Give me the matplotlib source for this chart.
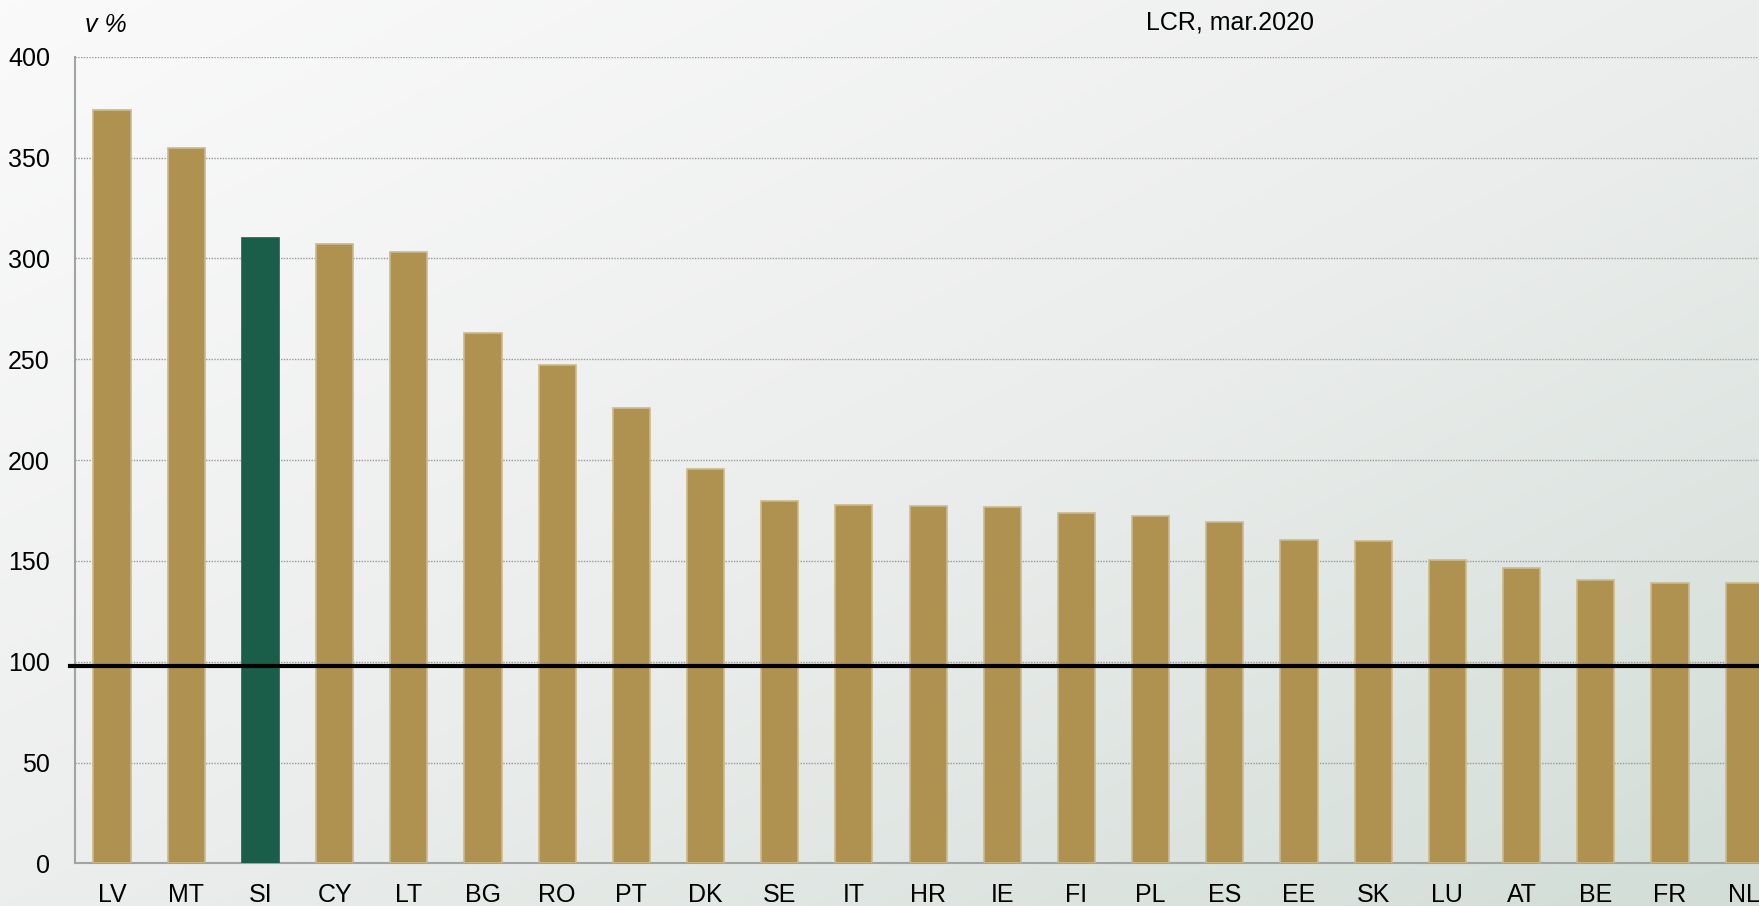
import numpy as np
import matplotlib
matplotlib.use('agg')
import matplotlib.pyplot as plt
from matplotlib.colors import LinearSegmentedColormap

# LCR by country, March 2020
countries = ['LV', 'MT', 'SI', 'CY', 'LT', 'BG', 'RO', 'PT', 'DK', 'SE', 'IT', 'HR',
             'IE', 'FI', 'PL', 'ES', 'EE', 'SK', 'LU', 'AT', 'BE', 'FR', 'NL']
lcr = [373.4, 354.6, 310.0, 307.3, 303.4, 263.2, 247.2, 226.0, 195.4, 179.8, 177.6, 177.0,
       176.6, 173.8, 172.0, 169.2, 160.4, 159.8, 150.5, 146.6, 140.3, 139.2, 138.8]
highlight = 'SI'
ref_level = 98

plt.rcParams['font.family'] = ['Liberation Sans Narrow', 'Liberation Sans', 'DejaVu Sans']

fig = plt.figure(figsize=(17.59, 9.06), dpi=100)

# diagonal gradient background
bg = fig.add_axes([0, 0, 1, 1], zorder=-10)
xx, yy = np.meshgrid(np.linspace(0, 1, 300), np.linspace(0, 1, 300))
t = (xx + yy) / 2
cmap = LinearSegmentedColormap.from_list('bg', ['#fafafa', '#eceeed', '#d2ddd7'])
bg.imshow(t, cmap=cmap, aspect='auto', extent=[0, 1, 1, 0], vmin=0, vmax=1)
bg.axis('off')

ax = fig.add_axes([0.0426, 0.0471, 0.9574, 0.8903])
ax.set_facecolor('none')

ind = np.arange(len(countries))
colors = ['#1a5e4a' if c == highlight else '#af9150' for c in countries]
edges = ['#1a5e4a' if c == highlight else '#cbb98e' for c in countries]
ax.bar(ind, lcr, 0.5, color=colors, edgecolor=edges, linewidth=1.2, zorder=3)

ax.axhline(ref_level, color='black', linewidth=3, zorder=4, xmin=-0.003, clip_on=False)

ax.set_xlim(-0.5, 22.2)
ax.set_ylim(0, 400)
ax.set_yticks(np.arange(0, 401, 50))
ax.set_xticks(ind)
ax.set_xticklabels(countries)
ax.yaxis.grid(True, linestyle=(0, (1, 1)), color='#999999', linewidth=1, zorder=0)
ax.tick_params(length=0, labelsize=18, pad=14)
ax.tick_params(axis='y', pad=18)
for s in ['top', 'right']:
    ax.spines[s].set_visible(False)
for s in ['left', 'bottom']:
    ax.spines[s].set_color('#a0a4a3')
    ax.spines[s].set_linewidth(1.5)

fig.text(0.0485, 0.972, 'v %', fontsize=18, style='italic', va='center', ha='left')
fig.text(0.699, 0.975, 'LCR, mar.2020', fontsize=18, va='center', ha='center')

fig.savefig('out.png', dpi=100)
